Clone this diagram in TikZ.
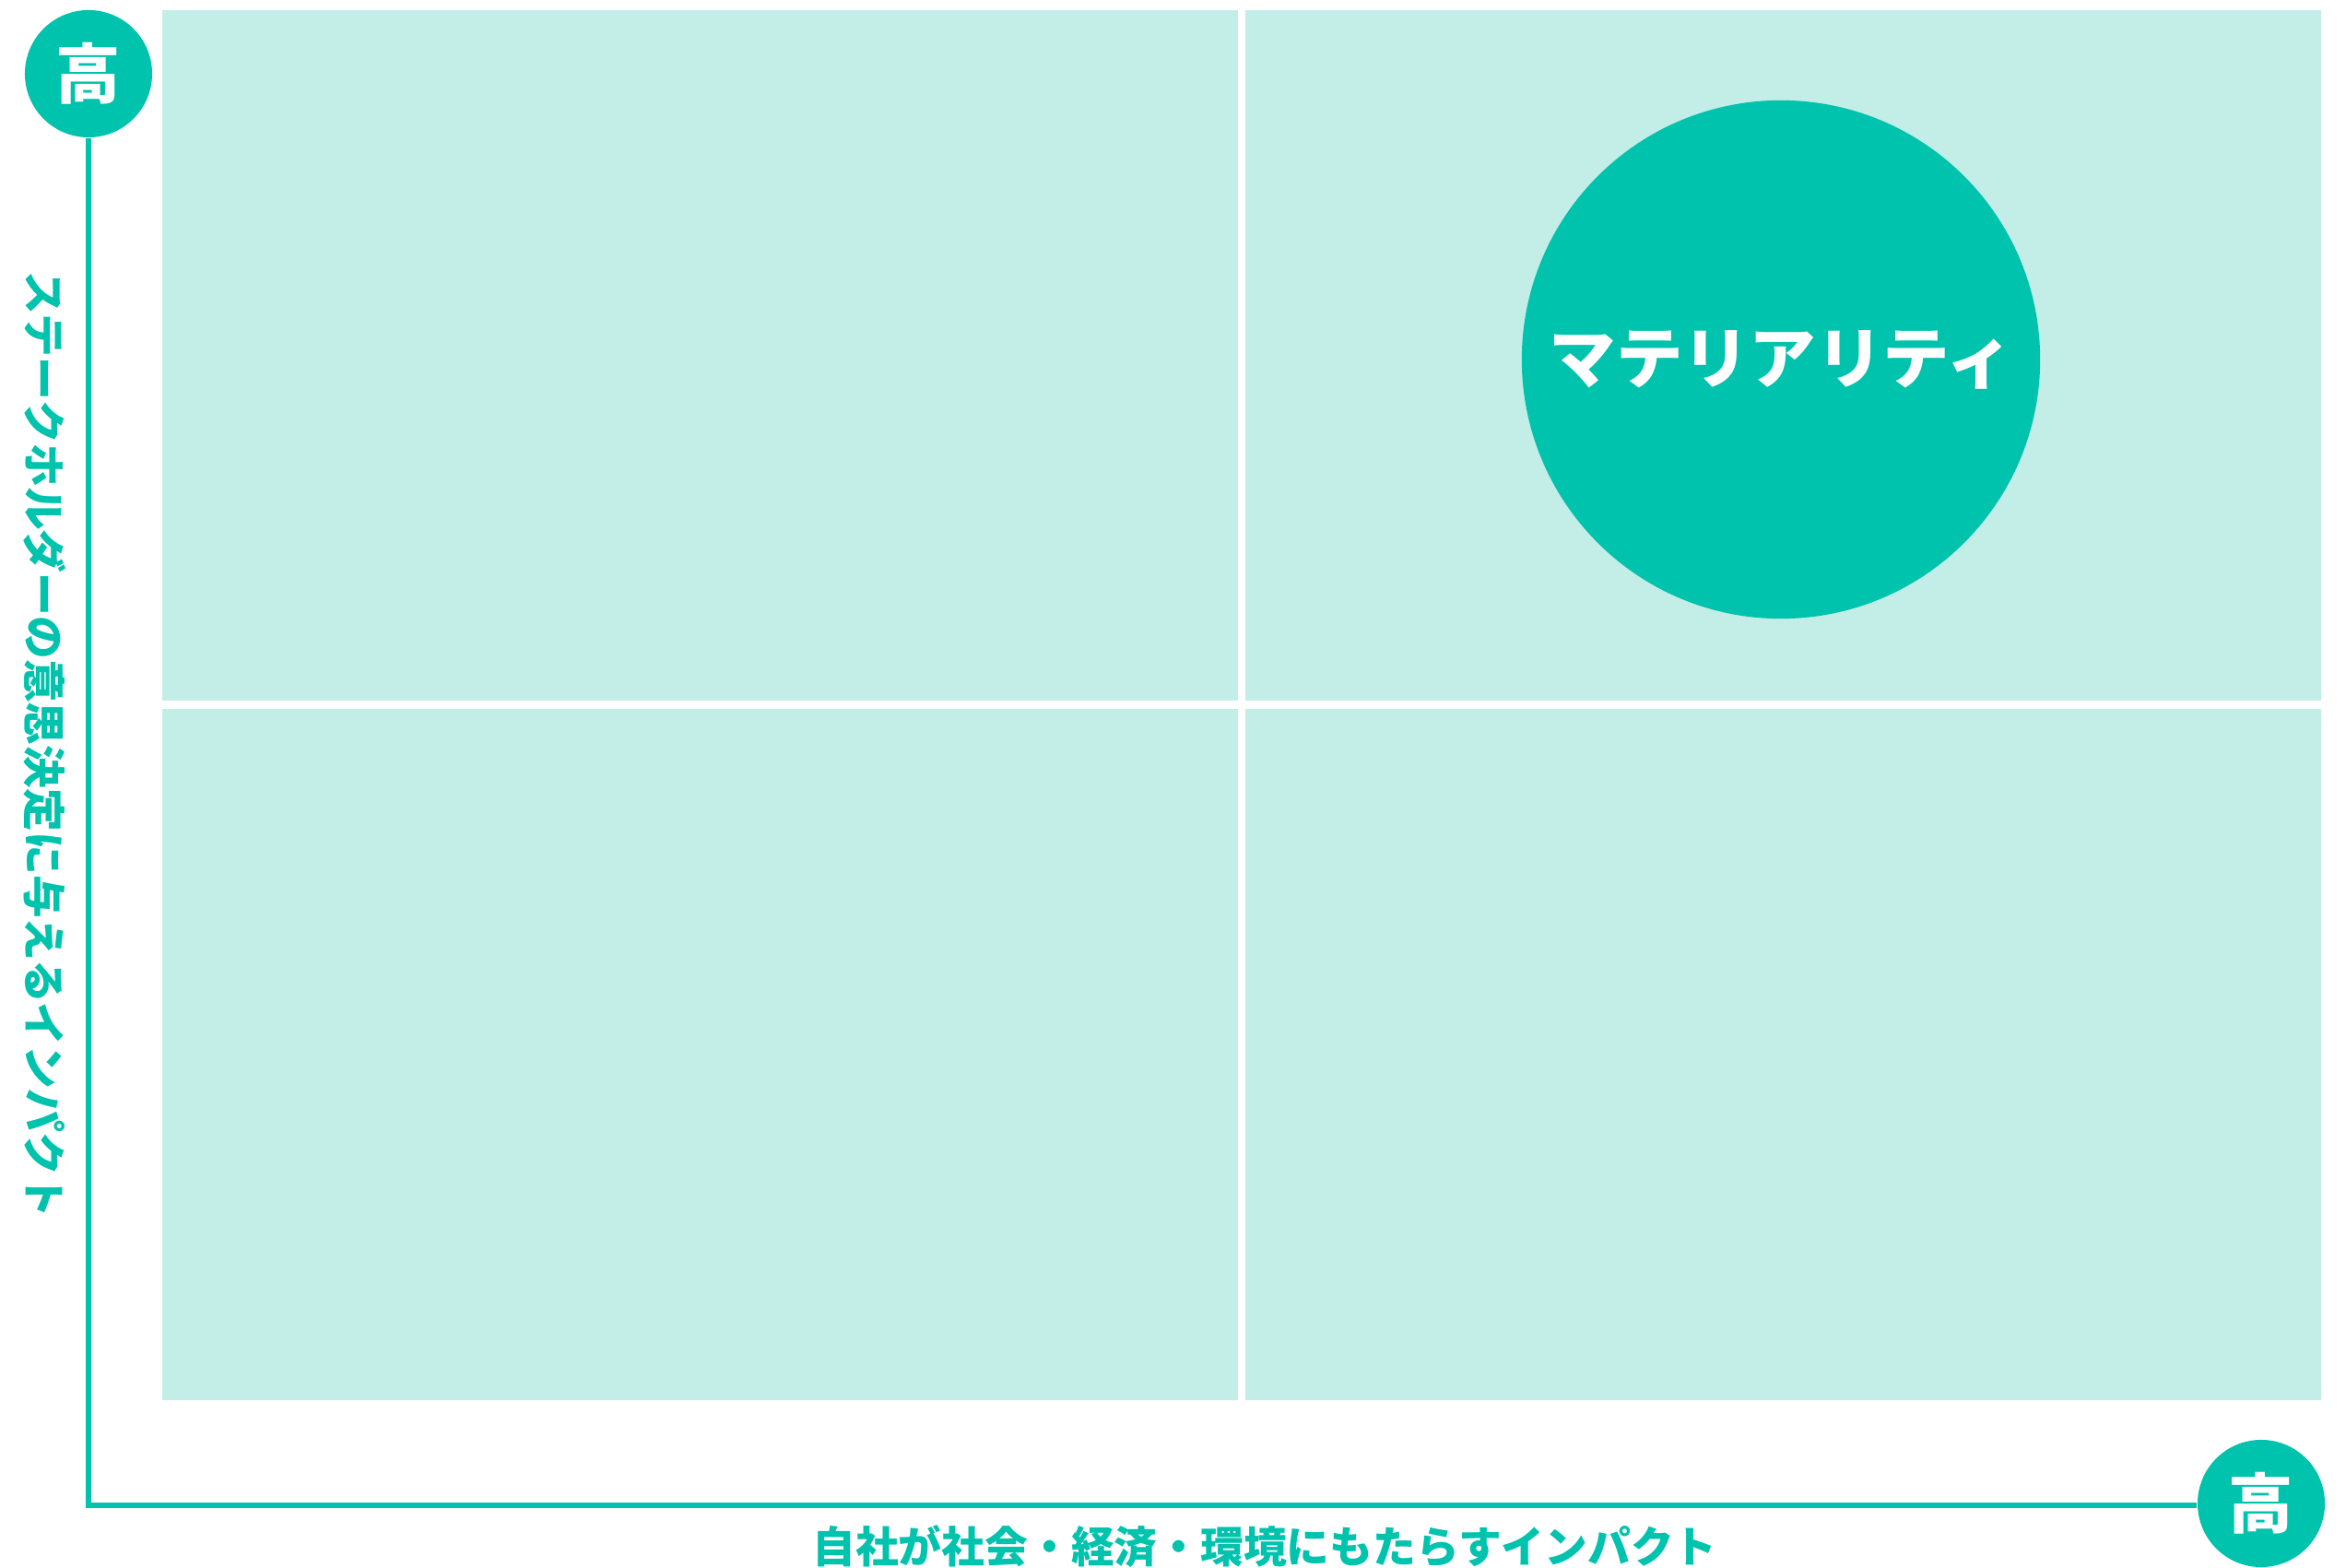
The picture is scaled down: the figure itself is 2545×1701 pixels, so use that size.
\documentclass[tikz,border=0pt]{standalone}
\usepackage{fontspec}
\setmainfont{Noto Sans CJK JP}
\usepackage{tikz}
\usetikzlibrary{calc}
\definecolor{matgreen}{RGB}{0,195,173}
\definecolor{matlight}{RGB}{195,238,232}
\tikzset{>=latex}
\tikzset{
  quad/.style = {fill = matlight, draw = none},
  highmark/.style = {circle, fill = matgreen, inner sep = 0pt, minimum size = 1.38cm, text = white, font = \fontsize{20}{20}\selectfont\bfseries},
  axislabel/.style = {text = matgreen, font = \fontsize{13.3}{13.3}\selectfont\bfseries}
}

\begin{document}
\begin{tikzpicture}[x = 0.01cm, y = -0.01cm]
\useasboundingbox (0,0) rectangle (2545,1701);
% four quadrants
\fill[quad] (176,11) rectangle (1343,760);
\fill[quad] (1351,11) rectangle (2518,760);
\fill[quad] (176,769) rectangle (1343,1519);
\fill[quad] (1351,769) rectangle (2518,1519);
% materiality
\node[circle, fill = matgreen, minimum size = 5.62cm, inner sep = 0pt, text = white, font = \fontsize{20.6}{20.6}\selectfont\bfseries] (mat) at (1932,390) {マテリアリティ};
% axes
\node[highmark] (highy) at (96,80) {高};
\node[highmark] (highx) at (2453,1631) {高};
\coordinate (origin) at (96,1633);
\draw[line width = 1.45pt, matgreen] (highy.south) -- (origin) -- (highx.west |- origin);
\node[axislabel, rotate = -90] (ylabel) at (49,808) {ステークホルダーの意思決定に与えるインパクト};
\node[axislabel] (xlabel) at (1372,1677) {自社が社会・経済・環境にもたらすインパクト};
\end{tikzpicture}
\end{document}
